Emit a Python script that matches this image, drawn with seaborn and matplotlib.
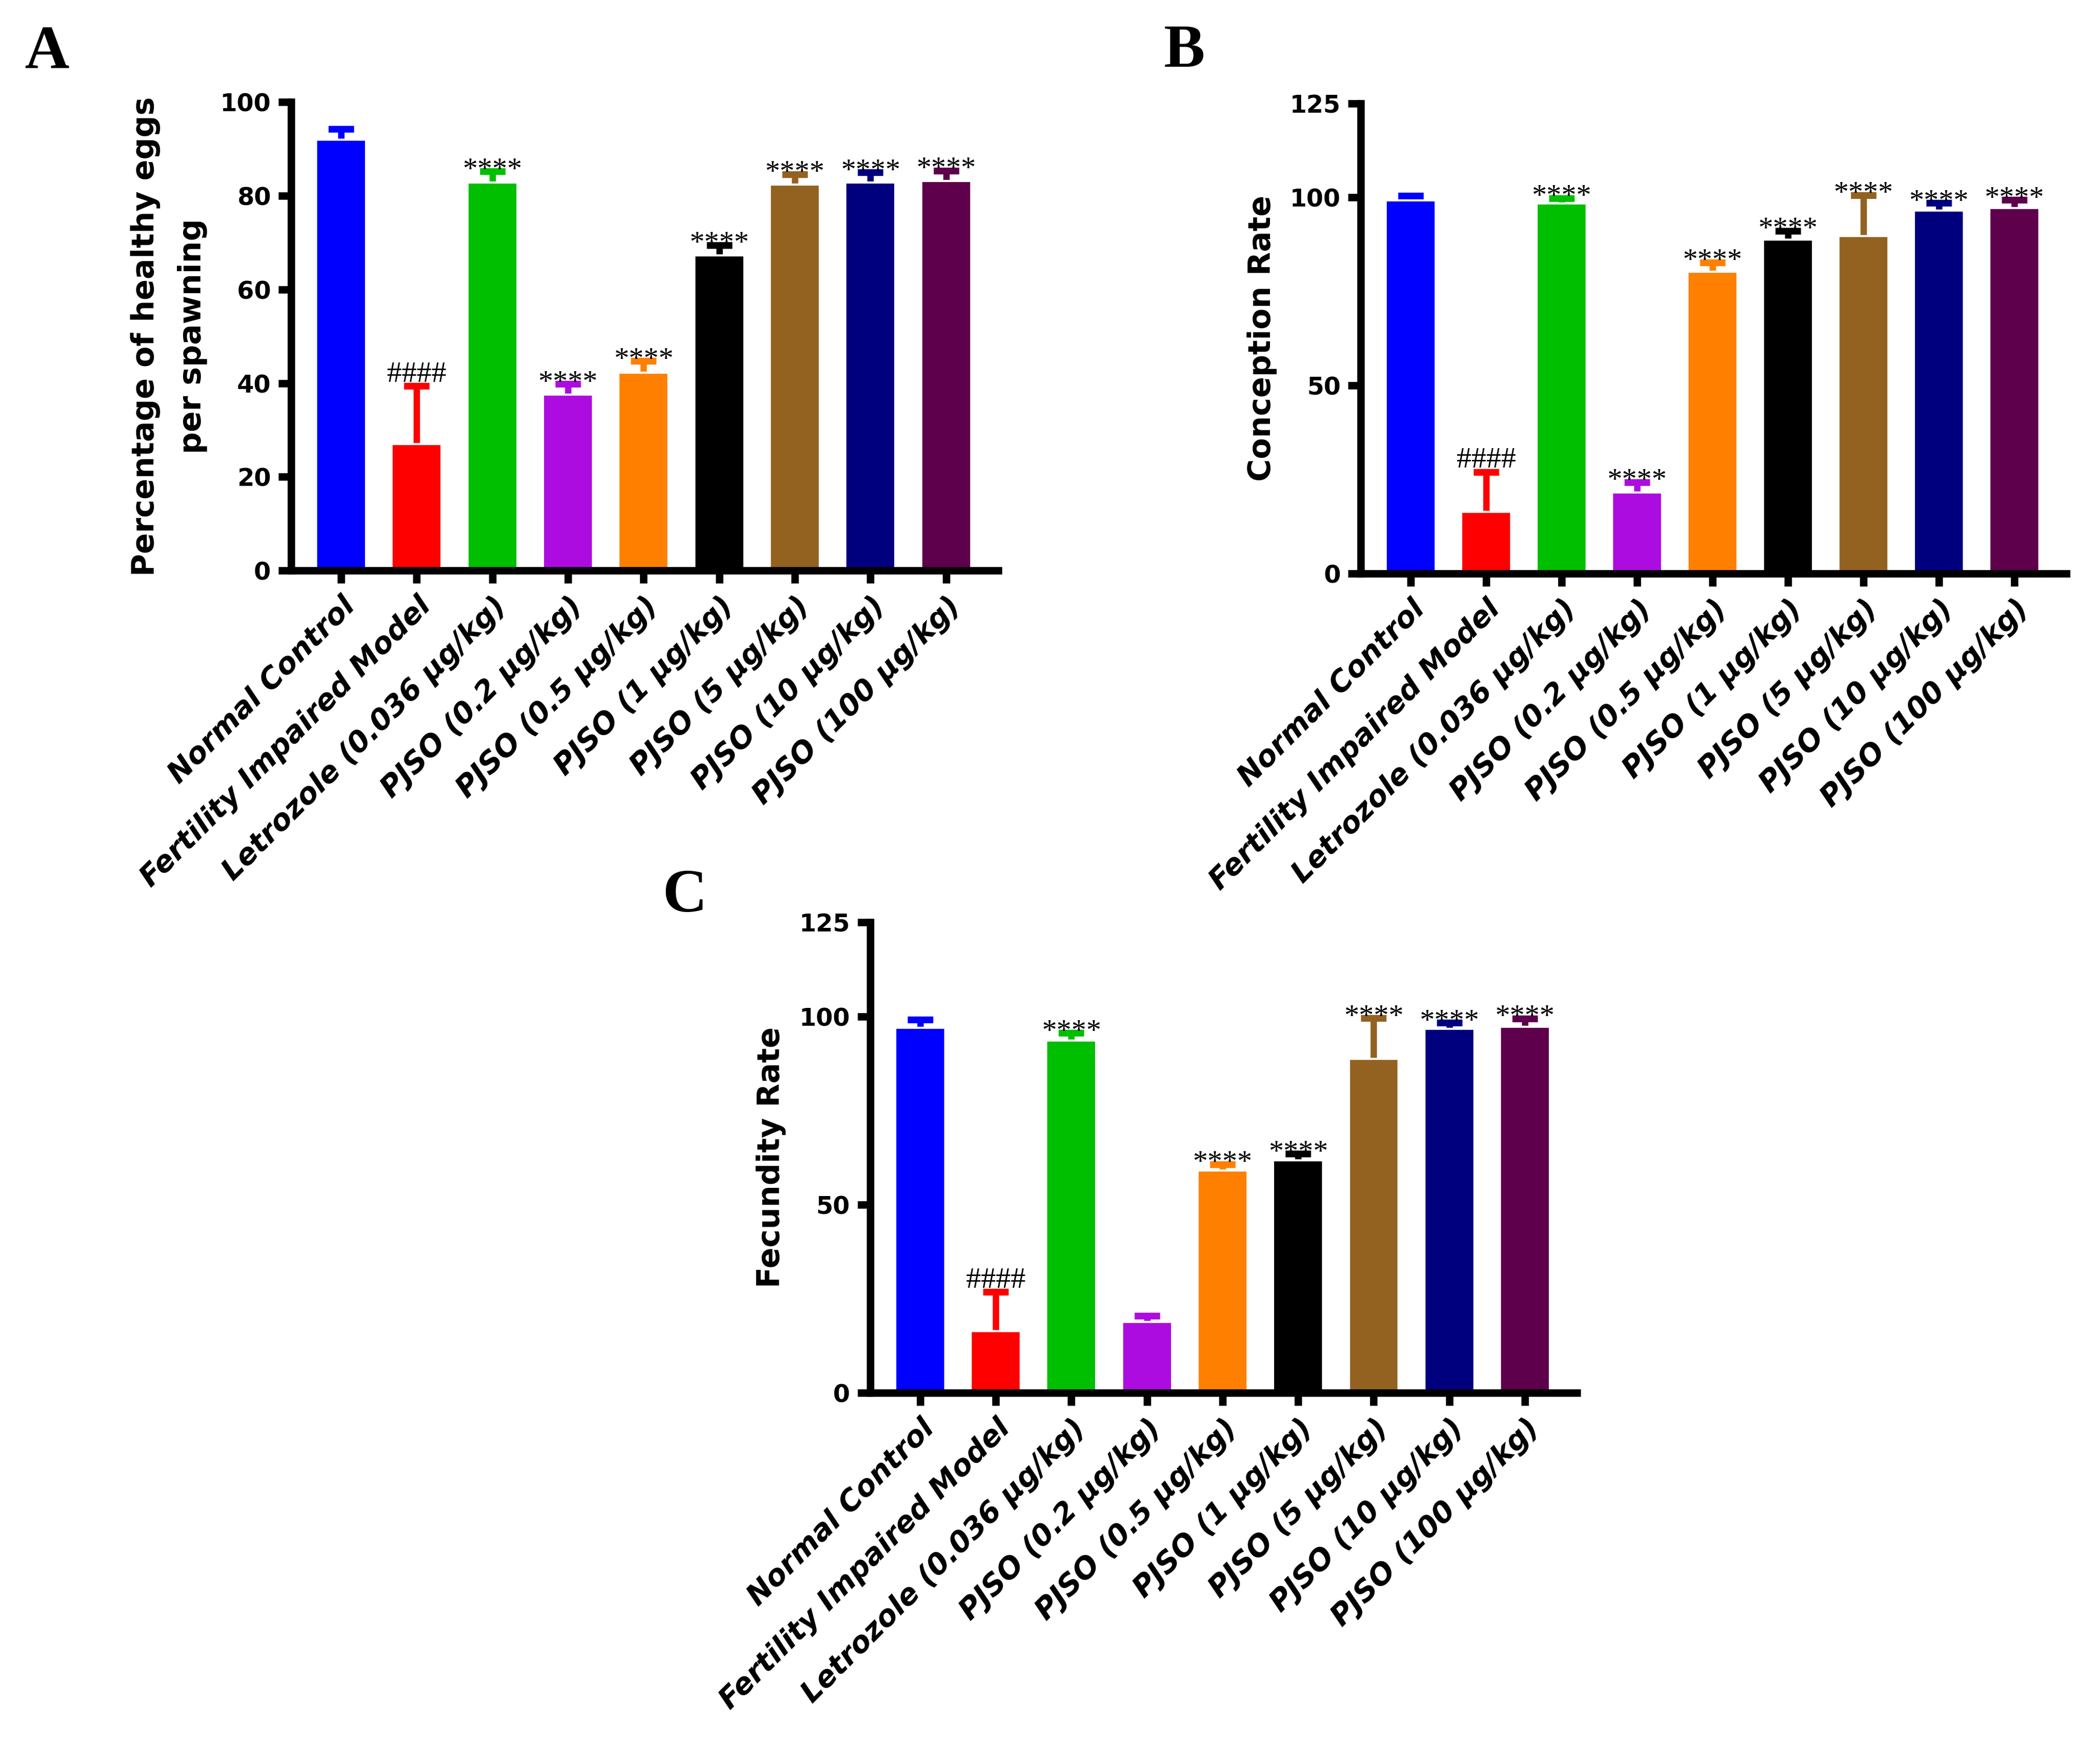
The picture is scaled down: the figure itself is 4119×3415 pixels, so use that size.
import numpy as np
import pandas as pd
import matplotlib
matplotlib.use("Agg")
import matplotlib.pyplot as plt
import seaborn as sns

# groups and colours shared by the three panels
groups = ["Normal Control", "Fertility Impaired Model", "Letrozole (0.036 μg/kg)",
          "PJSO (0.2 μg/kg)", "PJSO (0.5 μg/kg)", "PJSO (1 μg/kg)",
          "PJSO (5 μg/kg)", "PJSO (10 μg/kg)", "PJSO (100 μg/kg)"]
bar_colors = ["#0000FF", "#FF0000", "#00BF00", "#AD0CE1", "#FF8000",
              "#000000", "#936221", "#00007F", "#5E004B"]

# A - percentage of healthy eggs per spawning
eggs_mean = [92.0, 27.0, 82.8, 37.6, 42.2, 67.3, 82.4, 82.8, 83.2]
eggs_err = [2.3, 12.4, 2.4, 2.2, 2.5, 2.2, 2.2, 2.2, 2.2]
eggs_sig = ["", "####", "****", "****", "****", "****", "****", "****", "****"]

# B - conception rate
conception_mean = [99.2, 16.4, 98.4, 21.6, 80.3, 88.8, 89.7, 96.5, 97.2]
conception_err = [1.3, 10.6, 1.4, 2.7, 2.4, 2.3, 10.9, 2.0, 2.1]
conception_sig = ["", "####", "****", "****", "****", "****", "****", "****", "****"]

# C - fecundity rate
fecundity_mean = [97.0, 16.4, 93.6, 18.8, 59.1, 61.7, 88.7, 96.7, 97.2]
fecundity_err = [2.1, 10.4, 2.0, 1.7, 1.6, 1.8, 10.8, 1.6, 2.2]
fecundity_sig = ["", "####", "****", "", "****", "****", "****", "****", "****"]

sns.set_style("ticks")
plt.rcParams['font.family'] = ['DejaVu Sans']
plt.rcParams.update({"axes.edgecolor": "black", "text.color": "black",
                     "axes.labelcolor": "black", "xtick.color": "black",
                     "ytick.color": "black"})

W, H = 4119, 3415
fig = plt.figure(figsize=(W / 300, H / 300), dpi=300)


def draw_panel(rect, means, errs, sigs, ylabel, ymax, yticks, letter, letter_xy):
    ax = fig.add_axes(rect)
    df = pd.DataFrame({"group": groups, "value": means})
    sns.barplot(data=df, x="group", y="value", hue="group", palette=bar_colors,
                legend=False, width=0.66, saturation=1, ax=ax)
    # upper-only error bars, drawn behind the bars
    for i, (m, e) in enumerate(zip(means, errs)):
        eb = ax.errorbar(i, m, yerr=[[0], [e]], fmt='none', ecolor=bar_colors[i],
                         elinewidth=3, capsize=6, capthick=3.2, zorder=0.5)
        # hide the cap sitting on the bar top
        for cap in eb[1]:
            if np.allclose(cap.get_ydata(), m):
                cap.set_visible(False)
        if sigs[i]:
            is_hash = sigs[i] == "####"
            ax.annotate(sigs[i], xy=(i, m + e), xytext=(0, 2 if is_hash else -3),
                        textcoords='offset points', ha='center', va='baseline',
                        fontsize=14, family='Liberation Serif')
    ax.set_xlim(-0.66, 8.69)
    ax.set_ylim(0, ymax)
    ax.set_yticks(yticks)
    ax.set_xlabel("")
    ax.set_ylabel(ylabel, fontsize=14.5, fontweight='bold', labelpad=6, linespacing=1.7)
    sns.despine(ax=ax)
    for s in ["left", "bottom"]:
        ax.spines[s].set_linewidth(3.5)
    ax.tick_params(axis='y', width=3.5, length=6, labelsize=11.5)
    ax.tick_params(axis='x', width=3.5, length=6, pad=4)
    for t in ax.get_yticklabels():
        t.set_fontweight('bold')
    ax.set_xticks(range(len(groups)))
    ax.set_xticklabels(groups, rotation=45, ha='right', rotation_mode='anchor',
                       fontsize=13.8, fontweight='bold', fontstyle='italic')
    fig.text(letter_xy[0], letter_xy[1], letter, fontsize=29, fontweight='bold',
             family='Liberation Serif', ha='center', va='center')
    return ax


draw_panel([0.1386, 0.6723, 0.3368, 0.2690], eggs_mean, eggs_err, eggs_sig,
           "Percentage of healthy eggs\nper spawning", 100, [0, 20, 40, 60, 80, 100],
           "A", (0.0224, 0.9695))
draw_panel([0.648, 0.6706, 0.336, 0.2700], conception_mean, conception_err, conception_sig,
           "Conception Rate", 125, [0, 50, 100, 125], "B", (0.564, 0.970))
draw_panel([0.4144, 0.200, 0.3366, 0.2703], fecundity_mean, fecundity_err, fecundity_sig,
           "Fecundity Rate", 125, [0, 50, 100, 125], "C", (0.326, 0.485))

fig.savefig("out.png", dpi=300)
